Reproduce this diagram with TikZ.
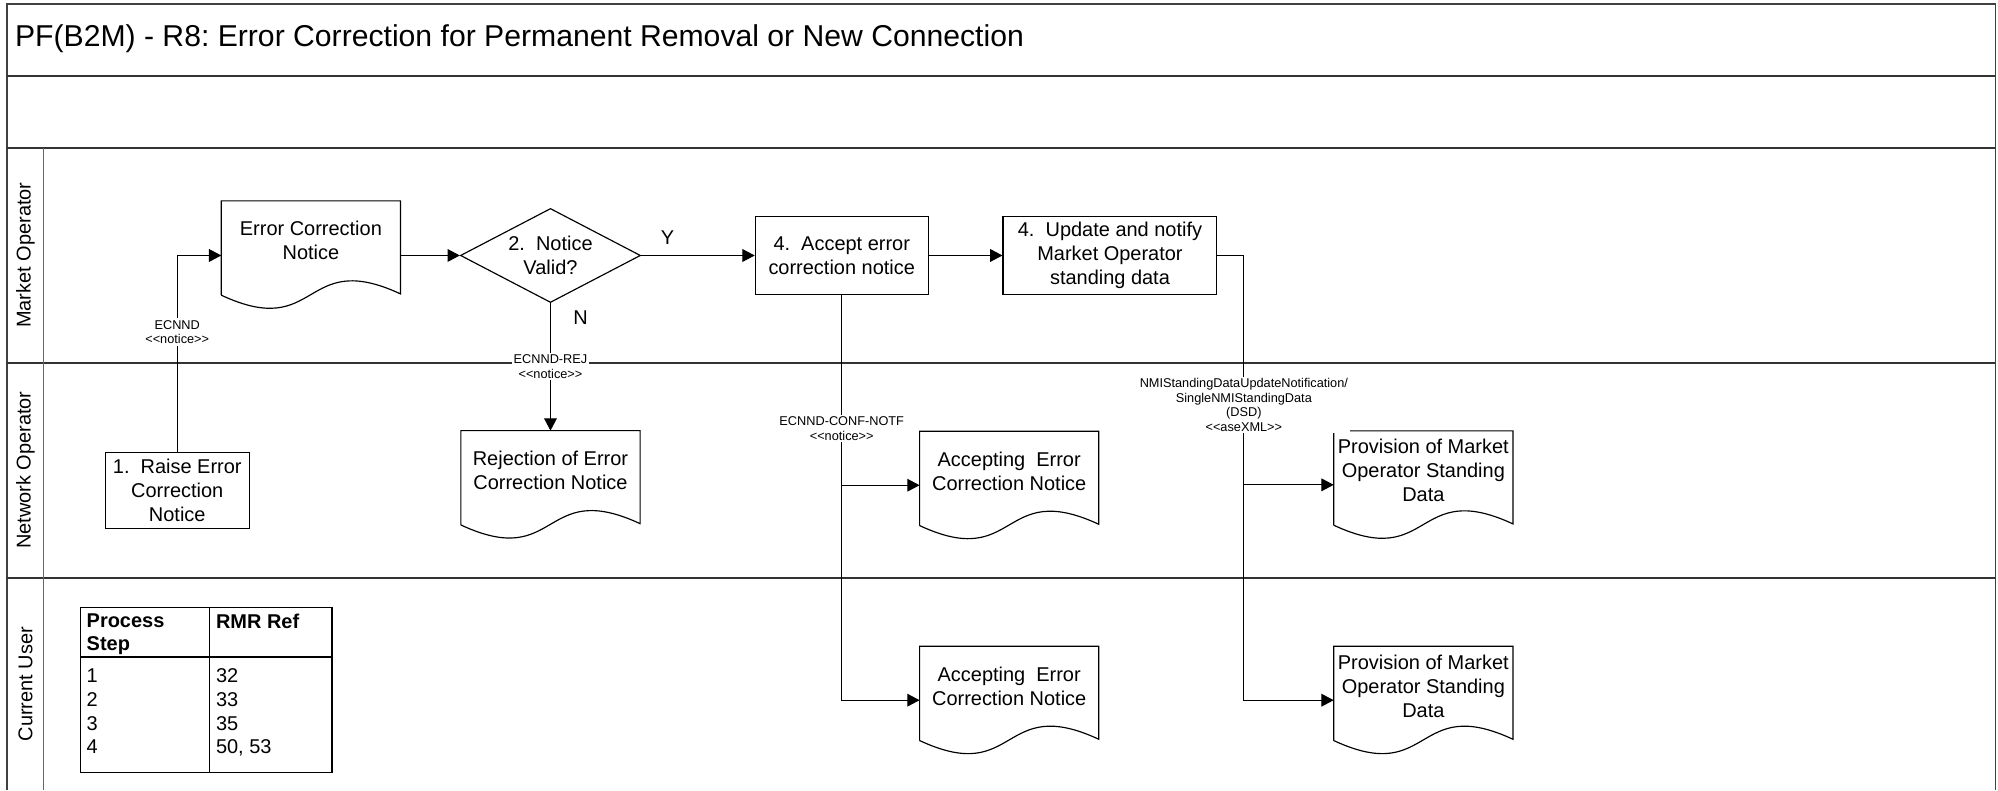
\documentclass[tikz,border=0pt]{standalone}
\usepackage{fontspec}
\setmainfont{Liberation Sans}
\usetikzlibrary{arrows.meta,calc,positioning,shapes.geometric}
\frenchspacing

\newcommand\boxfont{\fontsize{9.4}{11.3}\selectfont}
\newcommand\msgfont{\fontsize{6}{6.9}\selectfont}
\newcommand\stereo[1]{<\kern0pt<#1>\kern0pt>}
% outline of a document shape, drawn round a docu node
\newcommand\docline[1]{%
  \draw[line width=0.55pt] ($(#1.north west)+(0,74)$) -- (#1.north west) -- (#1.north east)
    -- ($(#1.north east)+(0,73)$)
    .. controls ($(#1.north west)!0.45!(#1.north east)+(0,37)$)
    and ($(#1.north west)!0.55!(#1.north east)+(0,110)$) .. ($(#1.north west)+(0,74)$);}

\tikzset{
  lane/.style={line width=0.9pt, black!80},
  lanename/.style={rotate=90, font=\boxfont, inner sep=0pt},
  proc/.style={draw, line width=0.55pt, align=center, font=\boxfont, inner sep=1pt},
  docu/.style={align=center, font=\boxfont, inner sep=1pt,
    minimum width=84pt, minimum height=37.2pt},
  decide/.style={draw, diamond, aspect=2, line width=0.55pt, align=center,
    font=\boxfont, inner sep=0pt, minimum width=84.8pt, minimum height=44.3pt},
  flow/.style={-{Triangle[length=5.8pt,width=6pt]}, line width=0.5pt},
  msg/.style={fill=white, inner sep=0.8pt, align=center, font=\msgfont},
  yesno/.style={font=\boxfont, inner sep=0pt},
  tabtxt/.style={anchor=base west, inner sep=0pt, font=\boxfont},
}

\begin{document}
\begin{tikzpicture}[x=0.6pt, y=-0.6pt]
  \useasboundingbox (0,0) rectangle (1568,620);

  % frame and swimlanes
  \draw[black!75, line width=0.8pt] (5.5,620) -- (5.5,3) -- (1566,3) -- (1566,620);
  \draw[black!80, line width=0.6pt] (5.5,59.6) -- (1566,59.6);
  \draw[lane] (5.5,115.9) -- (1566,115.9);
  \draw[lane] (5.5,284.6) -- (1566,284.6);
  \draw[lane] (5.5,453.4) -- (1566,453.4);
  \draw[black!60, line width=0.5pt] (34.5,115.9) -- (34.5,620);

  \node[anchor=base west, inner sep=0pt, font=\fontsize{14.2}{17}\selectfont] (title)
    at (11.5,36.5) {PF(B2M) - R8: Error Correction for Permanent Removal or New Connection};

  \node[lanename] (mo) at (20,200.2) {Market Operator};
  \node[lanename] (no) at (20,369) {Network Operator};
  \node[lanename] (cu) at (20,537) {Current User};

  % market operator
  \node[docu] (ecn) at (244,189) {Error Correction\\Notice};
  \node[decide] (valid) at (432,200.5) {2.\ \ Notice\\Valid?};
  \node[proc, minimum width=81.4pt, minimum height=36.9pt, right=53.5pt of valid] (acc)
    {4.\ \ Accept error\\correction notice};
  \node[proc, minimum width=100.7pt, minimum height=36.9pt, right=34.7pt of acc] (upd)
    {4.\ \ Update and notify\\Market Operator\\standing data};

  % network operator
  \node[proc, minimum width=67.7pt, minimum height=35.8pt] (raise) at (139.1,384.8)
    {1.\ \ Raise Error\\Correction\\Notice};
  \node[docu] (rej) at (432,369.3) {Rejection of Error\\Correction Notice};
  \node[docu] (accNO) at (792,369.8) {Accepting\ \ Error\\Correction Notice};
  \node[docu] (provNO) at (1117,369.5) {Provision of Market\\Operator Standing\\Data};

  % current user
  \node[docu] (accCU) at (792,538.5) {Accepting\ \ Error\\Correction Notice};
  \node[docu] (provCU) at (1117,538.5) {Provision of Market\\Operator Standing\\Data};

  \foreach \d in {ecn,rej,accNO,provNO,accCU,provCU}
    \docline{\d};

  \coordinate (accNOin) at ($(accNO.west)+(0,11)$);
  \coordinate (accCUin) at ($(accCU.west)+(0,11)$);
  \coordinate (provNOin) at ($(provNO.west)+(0,11)$);
  \coordinate (provCUin) at ($(provCU.west)+(0,11)$);
  \coordinate (dsdbend) at ($(upd.east)+(20.7,0)$);

  % connectors
  \draw[flow] (raise.north) |- node[msg, pos=0.305] {ECNND\\\stereo{notice}} (ecn.west |- valid.west);
  \draw[flow] (ecn.east |- valid.west) -- (valid.west);
  \draw[flow] (valid.east) -- node[yesno, pos=0.233, above=4.9pt] {Y} (acc.west);
  \draw[flow] (valid.south) -- node[yesno, pos=0.11, right=10.5pt] {N}
    node[msg, pos=0.5] {ECNND-REJ\\\stereo{notice}} (rej.north);
  \draw[flow] (acc.east) -- (upd.west);
  \draw[flow] (acc.south) |- node[msg, pos=0.165] {ECNND-CONF-NOTF\\\stereo{notice}} (accCUin);
  \draw[flow] (acc.south |- accNOin) -- (accNOin);
  \draw[flow] (upd.east) -- (dsdbend) |- node[msg, pos=0.168]
    {NMIStandingDataUpdateNotification/\\SingleNMIStandingData\\(DSD)\\\stereo{aseXML}} (provCUin);
  \draw[flow] (dsdbend |- provNOin) -- (provNOin);

  % RMR reference table
  \node[draw, line width=0.55pt, minimum width=118.5pt, minimum height=77.4pt] (reftab)
    at (161.75,541.5) {};
  \draw[line width=0.55pt] (164.3,477) -- (164.3,606);
  \draw[line width=0.55pt] (63,515.6) -- (260.5,515.6);
  \node[tabtxt, font=\boxfont\bfseries] (hstep) at (67.7,492.6) {Process};
  \node[tabtxt, font=\boxfont\bfseries] (hstep2) at (67.7,510.8) {Step};
  \node[tabtxt, font=\boxfont\bfseries] (href) at (169.2,493) {RMR Ref};
  \foreach \stp/\rmr [count=\i] in {1/32, 2/33, 3/35, 4/{50, 53}} {
    \node[tabtxt] (s\i) at (67.7,516.8+18.7*\i) {\stp};
    \node[tabtxt] (r\i) at (169.2,516.8+18.7*\i) {\rmr};
  }
\end{tikzpicture}
\end{document}
